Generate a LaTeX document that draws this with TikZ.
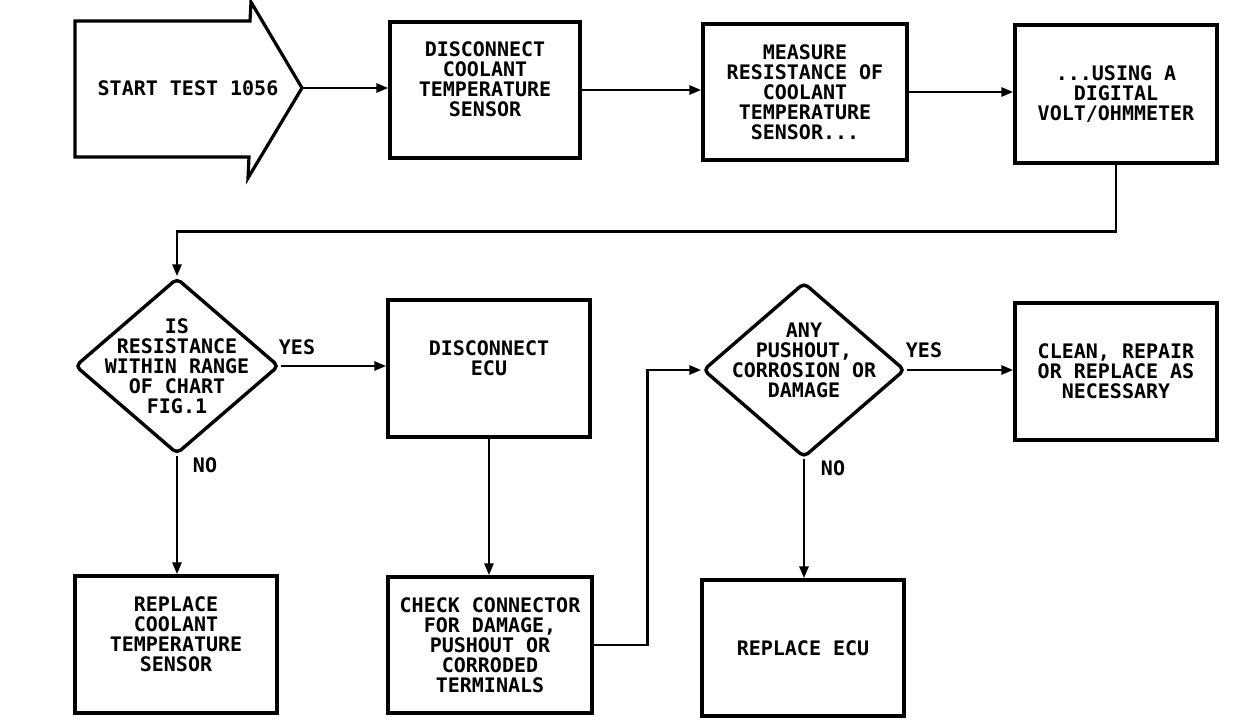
\documentclass[tikz,border=0pt]{standalone}
\usepackage{fontspec}
\setmonofont{DejaVu Sans Mono}
\usetikzlibrary{shapes.geometric,arrows.meta}
\begin{document}
\begin{tikzpicture}[x=1pt,y=-1pt,
  every node/.style={font=\ttfamily\bfseries\fontsize{20}{20}\selectfont},
  line/.style={line width=3.2pt},
  conn/.style={line width=2.8pt,-{Triangle[length=12pt,width=9pt]}},
  boxnode/.style={draw,line width=3.4pt,inner sep=0pt,minimum width=#1},
  boxnode/.default=202pt,
  txt/.style={align=center,inner sep=0pt},
  dia/.style={draw,diamond,line width=3.4pt,inner sep=0pt,minimum width=204pt,minimum height=176pt,rounded corners=5pt},
  lbl/.style={inner sep=0pt}]
\useasboundingbox (0,0) rectangle (1248,720);

% start arrow
\draw[line,line join=miter] (75,21) -- (250,21) -- (251,2) -- (302,88) -- (248,178) -- (249,157) -- (75,157) -- cycle;
\node[txt] (start) at (188,88) {START TEST 1056};
\coordinate (stip) at (302,88);

% top row boxes
\node[boxnode=190pt,minimum height=136pt] (b1) at (485,90) {};
\node[txt] (t1) at (485,79) {DISCONNECT\\COOLANT\\TEMPERATURE\\SENSOR};
\node[boxnode=204pt,minimum height=136pt,txt] (b2) at (805,92) {MEASURE\\RESISTANCE OF\\COOLANT\\TEMPERATURE\\SENSOR...};
\node[boxnode=202pt,minimum height=138pt,txt] (b3) at (1116,94) {...USING A\\DIGITAL\\VOLT/OHMMETER};

% first decision
\node[dia] (d1) at (177,366) {};
\node[txt] (t2) at (177,366) {IS\\RESISTANCE\\WITHIN RANGE\\OF CHART\\FIG.1};

\node[boxnode=202pt,minimum height=137pt] (b4) at (489,368.5) {};
\node[txt] (t4) at (489,358) {DISCONNECT\\ECU};

\node[boxnode=202pt,minimum height=137pt] (b8) at (176,644.5) {};
\node[txt] (t8) at (176,634) {REPLACE\\COOLANT\\TEMPERATURE\\SENSOR};
\node[boxnode=204pt,minimum height=136pt,txt] (b5) at (490,645) {CHECK CONNECTOR\\FOR DAMAGE,\\PUSHOUT OR\\CORRODED\\TERMINALS};

% second decision
\node[dia,minimum width=202pt,minimum height=175pt] (d2) at (804,370) {};
\node[txt] (t5) at (804,360) {ANY\\PUSHOUT,\\CORROSION OR\\DAMAGE};

\node[boxnode=202pt,minimum height=137pt,txt] (b6) at (1116,371.5) {CLEAN, REPAIR\\OR REPLACE AS\\NECESSARY};
\node[boxnode=202pt,minimum height=136pt,txt] (b7) at (803,648) {REPLACE ECU};

% labels
\node[lbl] (y1) at (297,347) {YES};
\node[lbl] (n1) at (205,465) {NO};
\node[lbl] (y2) at (924,350) {YES};
\node[lbl] (n2) at (833,468) {NO};

% connectors
\draw[conn] (stip) -- (stip -| b1.west);
\draw[conn] (b1.east) -- (b1.east -| b2.west);
\draw[conn] (b2.east) -- (b2.east -| b3.west);
\draw[conn] (b3.south) -- ++(0,67) -| (d1.north);
\draw[conn] (d1.east) -- (d1.east -| b4.west);
\draw[conn] (d1.south) -- (d1.south |- b8.north);
\draw[conn] (b4.south) -- (b4.south |- b5.north);
\draw[conn] (b5.east) -- ++(54,0) |- (d2.west);
\draw[conn] (d2.east) -- (d2.east -| b6.west);
\draw[conn] (d2.south) -- (d2.south |- b7.north);
\end{tikzpicture}
\end{document}
